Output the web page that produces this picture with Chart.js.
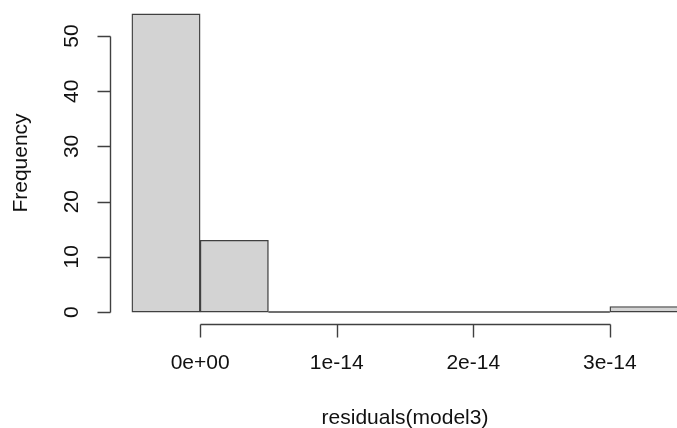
<!DOCTYPE html>
<html>
<head>
<meta charset="utf-8">
<script src="https://cdn.jsdelivr.net/npm/chart.js@4"></script>
<style>
  html, body { margin: 0; padding: 0; background: #fff; overflow: hidden; }
  #wrap { width: 710px; height: 428px; }
</style>
</head>
<body>
<div id="wrap"><canvas id="c" width="710" height="428"></canvas></div>
<script>
// Histogram of residuals(model3)
const binEdges = [-0.5e-14, 0, 0.5e-14, 1.0e-14, 1.5e-14, 2.0e-14, 2.5e-14, 3.0e-14, 3.5e-14];
const binCounts = [54, 13, 0, 0, 0, 0, 0, 1];
const xTickValues = [0, 1e-14, 2e-14, 3e-14];
const xTickLabels = ['0e+00', '1e-14', '2e-14', '3e-14'];
const yTickValues = [0, 10, 20, 30, 40, 50];
const yTickLabels = ['0', '10', '20', '30', '40', '50'];
const xTitle = 'residuals(model3)';
const yTitle = 'Frequency';

const FONT = '"Liberation Sans", Arial, sans-serif';
const FS = 21;
const INK = '#404040';
const LW = 1.4;

const barData = binCounts.map((c, i) => ({ x: (binEdges[i] + binEdges[i + 1]) / 2, y: c }));
// zero-height bins are drawn by R as a flat line on the baseline
const zeroLine = [];
binCounts.forEach((c, i) => {
  if (c === 0) {
    zeroLine.push({ x: binEdges[i], y: 0 });
    zeroLine.push({ x: binEdges[i + 1], y: 0 });
  }
});

const xr = binEdges[binEdges.length - 1] - binEdges[0];
const yMaxData = Math.max(...binCounts);
const xMin = binEdges[0] - 0.04 * xr, xMax = binEdges[binEdges.length - 1] + 0.04 * xr;
const yMin = -0.04 * yMaxData, yMax = yMaxData * 1.04;

const rAxes = {
  id: 'rAxes',
  afterDraw(chart) {
    const ctx = chart.ctx;
    const xs = chart.scales.x, ys = chart.scales.y;
    const ca = chart.chartArea;
    ctx.save();
    ctx.strokeStyle = INK;
    ctx.lineWidth = LW;
    ctx.fillStyle = '#111';
    // y axis
    const ax = Math.round(ca.left) + 0.5;
    const y0 = ys.getPixelForValue(yTickValues[0]);
    const y1 = ys.getPixelForValue(yTickValues[yTickValues.length - 1]);
    ctx.beginPath();
    ctx.moveTo(ax, Math.round(y0) + 0.5);
    ctx.lineTo(ax, Math.round(y1) + 0.5);
    yTickValues.forEach(v => {
      const py = Math.round(ys.getPixelForValue(v)) + 0.5;
      ctx.moveTo(ax, py);
      ctx.lineTo(ax - 13, py);
    });
    ctx.stroke();
    ctx.font = FS + 'px ' + FONT;
    ctx.textAlign = 'center';
    ctx.textBaseline = 'middle';
    yTickValues.forEach((v, i) => {
      const py = ys.getPixelForValue(v);
      ctx.save();
      ctx.translate(72, py);
      ctx.rotate(-Math.PI / 2);
      ctx.fillText(yTickLabels[i], 0, 0);
      ctx.restore();
    });
    // x axis
    const ay = Math.round(ca.bottom) + 0.5;
    const x0 = xs.getPixelForValue(xTickValues[0]);
    const x1 = xs.getPixelForValue(xTickValues[xTickValues.length - 1]);
    ctx.beginPath();
    ctx.moveTo(Math.round(x0) + 0.5, ay);
    ctx.lineTo(Math.round(x1) + 0.5, ay);
    xTickValues.forEach(v => {
      const px = Math.round(xs.getPixelForValue(v)) + 0.5;
      ctx.moveTo(px, ay);
      ctx.lineTo(px, ay + 13);
    });
    ctx.stroke();
    xTickValues.forEach((v, i) => {
      ctx.fillText(xTickLabels[i], xs.getPixelForValue(v), 363);
    });
    // titles
    ctx.fillText(xTitle, (ca.left + ca.right) / 2, 418);
    ctx.save();
    ctx.translate(21, (ca.top + ca.bottom) / 2);
    ctx.rotate(-Math.PI / 2);
    ctx.fillText(yTitle, 0, 0);
    ctx.restore();
    ctx.restore();
  }
};

new Chart(document.getElementById('c'), {
  data: {
    datasets: [
      {
        type: 'bar',
        data: barData,
        backgroundColor: '#d3d3d3',
        borderColor: INK,
        borderWidth: LW,
        borderSkipped: false,
        barPercentage: 1,
        categoryPercentage: 1
      },
      {
        type: 'line',
        data: zeroLine,
        borderColor: INK,
        borderWidth: LW,
        pointRadius: 0,
        fill: false
      }
    ]
  },
  options: {
    responsive: false,
    animation: false,
    devicePixelRatio: 1,
    layout: { padding: { left: 110, top: 2, right: 10, bottom: 104 } },
    plugins: { legend: { display: false }, tooltip: { enabled: false } },
    scales: {
      x: { type: 'linear', min: xMin, max: xMax, offset: false, display: false },
      y: { type: 'linear', min: yMin, max: yMax, offset: false, display: false }
    }
  },
  plugins: [rAxes]
});
</script>
</body>
</html>
